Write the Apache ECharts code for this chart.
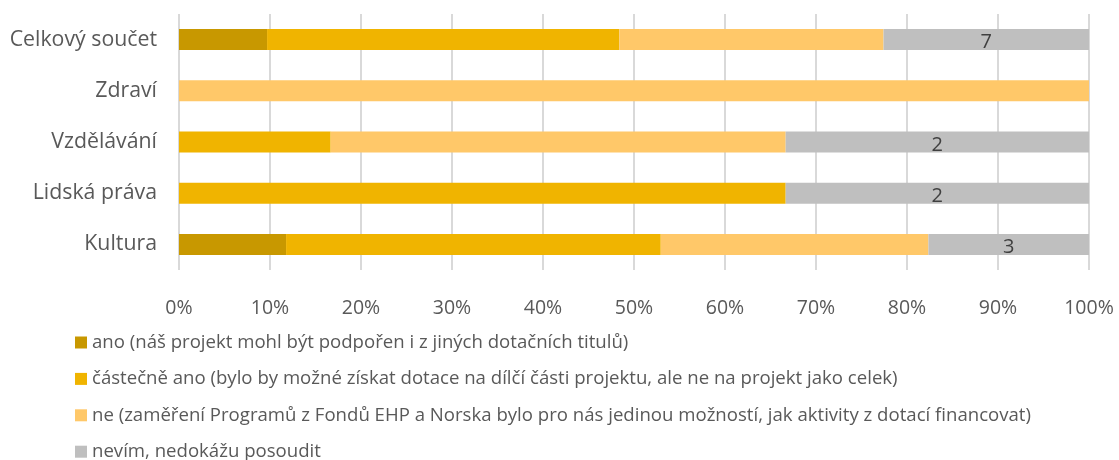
<!DOCTYPE html>
<html>
<head>
<meta charset="utf-8">
<script src="https://cdn.jsdelivr.net/npm/echarts@6/dist/echarts.min.js"></script>
<style>
  html, body { margin: 0; padding: 0; background: #fff; }
  #chart { width: 1119px; height: 460px; }
</style>
</head>
<body>
<div id="chart"></div>
<script>
// rows bottom -> top (category axis is drawn bottom-up)
const categories = ["Kultura", "Lidská práva", "Vzdělávání", "Zdraví", "Celkový součet"];

const seriesNames = [
  "ano (náš projekt mohl být podpořen i z jiných dotačních titulů)",
  "částečně ano (bylo by možné získat dotace na dílčí části projektu, ale ne na projekt jako celek)",
  "ne (zaměření Programů z Fondů EHP a Norska bylo pro nás jedinou možností, jak aktivity z dotací financovat)",
  "nevím, nedokážu posoudit"
];

// answer counts per row
const ano = [2, 0, 0, 0, 3];
const castecne = [7, 4, 1, 0, 12];
const ne = [5, 0, 3, 2, 9];
const nevim = [3, 2, 2, 0, 7];

const colors = ["#C89800", "#F0B400", "#FFC869", "#BFBFBF"];

const counts = [ano, castecne, ne, nevim];
const totals = categories.map((c, i) => counts.reduce((s, arr) => s + arr[i], 0));

const font = "'Open Sans', sans-serif";

const series = counts.map((arr, k) => ({
  name: seriesNames[k],
  type: "bar",
  stack: "total",
  barWidth: 21,
  itemStyle: { color: colors[k] },
  label: {
    show: k === 3,
    position: "inside",
    color: "#404040",
    fontSize: 20,
    fontFamily: font,
    offset: [0, 3],
    formatter: p => (arr[p.dataIndex] ? String(arr[p.dataIndex]) : "")
  },
  emphasis: { disabled: true },
  data: arr.map((v, i) => (v / totals[i]) * 100)
}));

const chart = echarts.init(document.getElementById("chart"));
chart.setOption({
  animation: false,
  grid: { left: 179, right: 30, top: 14, height: 256 },
  xAxis: {
    type: "value",
    min: 0,
    max: 100,
    interval: 10,
    axisLabel: {
      formatter: "{value}%",
      color: "#595959",
      fontSize: 19.5,
      fontFamily: font,
      margin: 28
    },
    splitLine: { lineStyle: { color: "#D9D9D9", width: 2 } },
    axisLine: { show: false },
    axisTick: { show: false }
  },
  yAxis: {
    type: "category",
    data: categories,
    axisLabel: { color: "#595959", fontSize: 21.3, fontFamily: font, margin: 22 },
    axisLine: { show: false },
    axisTick: { show: false }
  },
  legend: {
    orient: "vertical",
    left: 70,
    top: 328,
    height: 200,
    itemWidth: 12,
    itemHeight: 12,
    itemGap: 17.4,
    icon: "rect",
    textStyle: { color: "#595959", fontSize: 18.6, lineHeight: 18, fontFamily: font },
    data: seriesNames
  },
  series: series
});
</script>
</body>
</html>
